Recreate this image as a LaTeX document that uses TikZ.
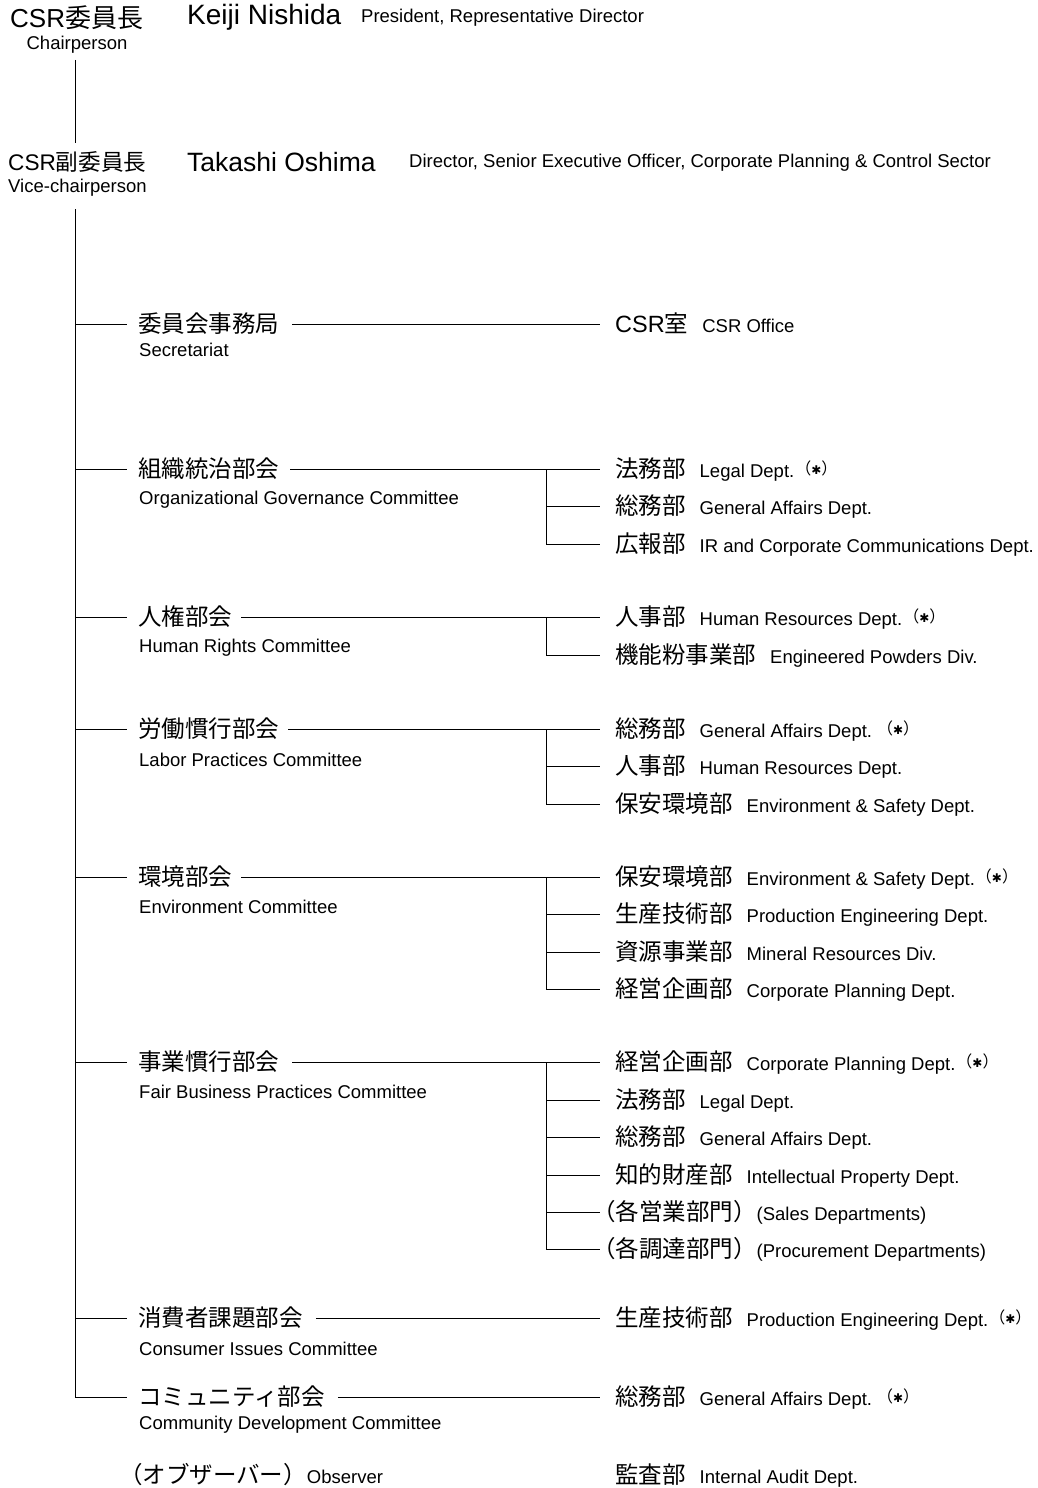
\documentclass[tikz,border=0pt]{standalone}
\usepackage{fontspec}
\setmainfont{Liberation Sans}
\newfontfamily\jpf{Noto Sans CJK JP}
\newfontfamily\symf{DejaVu Sans}
\newcommand\jpt[1]{{\jpf\fontsize{23.5}{26}\selectfont #1}}
\newcommand\dept[2]{\jpt{#1}\hspace{14pt}#2}
\newcommand\astk{\hspace{1pt}\raisebox{3pt}{{\jpf\fontsize{16}{16}\selectfont （}{\symf\fontsize{12}{12}\selectfont ✱}{\jpf\fontsize{16}{16}\selectfont ）}}}
\begin{document}
\begin{tikzpicture}[x=1pt,y=1pt,
  conn/.style={line width=1pt},
  jp/.style={font=\jpf\fontsize{23.5}{26}\selectfont, anchor=west, inner sep=0pt, text height=20pt, text depth=3.5pt},
  en/.style={font=\fontsize{18.5}{22}\selectfont, anchor=west, inner sep=0pt},
  dp/.style={font=\fontsize{18.5}{22}\selectfont, anchor=west, inner sep=0pt, text height=20pt, text depth=3.5pt},
  head/.style={anchor=west, inner sep=0pt},
]
\useasboundingbox (0,0) rectangle (1038,-1488);

% --- header ---
\node[head, font=\fontsize{26}{28}\selectfont] (chairjp) at (10,-18) {CSR{\jpf 委員長}};
\node[inner sep=0pt, font=\fontsize{18.5}{22}\selectfont] (chairen) at (77,-45) {Chairperson};
\node[head, font=\fontsize{28}{30}\selectfont] (chairname) at (187,-17) {Keiji Nishida};
\node[head, font=\fontsize{18.5}{22}\selectfont] (chairtitle) at (361,-18) {President, Representative Director};

\node[head, font=\fontsize{22.6}{26}\selectfont] (vicejp) at (8,-162) {CSR{\jpf 副委員長}};
\node[head, font=\fontsize{18.5}{22}\selectfont] (viceen) at (8,-188) {Vice-chairperson};
\node[head, font=\fontsize{26.5}{30}\selectfont] (vicename) at (187,-162) {Takashi Oshima};
\node[head, font=\fontsize{18.5}{22}\selectfont] (vicetitle) at (409,-163) {Director, Senior Executive Officer, Corporate Planning \& Control Sector};

\coordinate (v1top) at (75,-60);
\coordinate (v1bot) at (75,-143);
\draw[conn] (v1top) -- (v1bot);
\coordinate (trunktop) at (75,-209);
\coordinate (trunkbot) at (75,-1397);
\draw[conn] (trunktop) -- (trunkbot);

% --- committees ---
\node[jp] (sec) at (138,-324) {委員会事務局};
\node[en] (secen) at (139,-350) {Secretariat};
\node[jp] (og) at (138,-469) {組織統治部会};
\node[en] (ogen) at (139,-500) {Organizational Governance Committee};
\node[jp] (hr) at (138,-617) {人権部会};
\node[en] (hren) at (139,-648) {Human Rights Committee};
\node[jp] (lp) at (138,-729) {労働慣行部会};
\node[en] (lpen) at (139,-760) {Labor Practices Committee};
\node[jp] (env) at (138,-877) {環境部会};
\node[en] (envenn) at (139,-907) {Environment Committee};
\node[jp] (fbp) at (138,-1062) {事業慣行部会};
\node[en] (fbpen) at (139,-1092) {Fair Business Practices Committee};
\node[jp] (ci) at (138,-1318) {消費者課題部会};
\node[en] (cien) at (139,-1349) {Consumer Issues Committee};
\node[jp] (cd) at (138,-1397) {コミュニティ部会};
\node[en] (cden) at (139,-1425) {Community Development Committee};
\node[dp] (obs) at (119,-1475) {\jpt{（オブザーバー）}Observer};

% --- departments ---
\node[dp] (secs) at (615,-324) {{\fontsize{23.5}{26}\selectfont CSR}\jpt{室}\hspace{14pt}CSR Office};

\node[dp] (og1) at (615,-469) {\dept{法務部}{Legal Dept.\astk}};
\node[dp] (og2) at (615,-506) {\dept{総務部}{General Affairs Dept.}};
\node[dp] (og3) at (615,-544) {\dept{広報部}{IR and Corporate Communications Dept.}};

\node[dp] (hr1) at (615,-617) {\dept{人事部}{Human Resources Dept.\astk}};
\node[dp] (hr2) at (615,-655) {\dept{機能粉事業部}{Engineered Powders Div.}};

\node[dp] (lp1) at (615,-729) {\dept{総務部}{General Affairs Dept.\hspace{4pt}\astk}};
\node[dp] (lp2) at (615,-766) {\dept{人事部}{Human Resources Dept.}};
\node[dp] (lp3) at (615,-804) {\dept{保安環境部}{Environment \& Safety Dept.}};

\node[dp] (env1) at (615,-877) {\dept{保安環境部}{Environment \& Safety Dept.\astk}};
\node[dp] (env2) at (615,-914) {\dept{生産技術部}{Production Engineering Dept.}};
\node[dp] (env3) at (615,-952) {\dept{資源事業部}{Mineral Resources Div.}};
\node[dp] (env4) at (615,-989) {\dept{経営企画部}{Corporate Planning Dept.}};

\node[dp] (fbp1) at (615,-1062) {\dept{経営企画部}{Corporate Planning Dept.\astk}};
\node[dp] (fbp2) at (615,-1100) {\dept{法務部}{Legal Dept.}};
\node[dp] (fbp3) at (615,-1137) {\dept{総務部}{General Affairs Dept.}};
\node[dp] (fbp4) at (615,-1175) {\dept{知的財産部}{Intellectual Property Dept.}};
\node[dp] (fbp5) at (592,-1212) {\jpt{（各営業部門）}(Sales Departments)};
\node[dp] (fbp6) at (592,-1249) {\jpt{（各調達部門）}(Procurement Departments)};

\node[dp] (ci1) at (615,-1318) {\dept{生産技術部}{Production Engineering Dept.\astk}};
\node[dp] (cd1) at (615,-1397) {\dept{総務部}{General Affairs Dept.\hspace{4pt}\astk}};
\node[dp] (obs1) at (615,-1475) {\dept{監査部}{Internal Audit Dept.}};

% --- trunk to committees ---
\foreach \c in {sec,og,hr,lp,env,fbp,ci,cd}
  \draw[conn] (trunktop |- \c.west) -- ([xshift=-11pt]\c.west);

% --- committee to departments ---
\coordinate (rend) at (600,0);
\draw[conn] ([xshift=13pt]sec.east) -- (rend |- secs.west);
\draw[conn] ([xshift=13pt]ci.east) -- (rend |- ci1.west);
\draw[conn] ([xshift=13pt]cd.east) -- (rend |- cd1.west);

\draw[conn] ([xshift=11pt]og.east) -- (rend |- og1.west);
\coordinate (bog) at (546,-469);
\foreach \d in {og2,og3} \draw[conn] (bog) |- (rend |- \d.west);

\draw[conn] ([xshift=9pt]hr.east) -- (rend |- hr1.west);
\coordinate (bhr) at (546,-617);
\draw[conn] (bhr) |- (rend |- hr2.west);

\draw[conn] ([xshift=9pt]lp.east) -- (rend |- lp1.west);
\coordinate (blp) at (546,-729);
\foreach \d in {lp2,lp3} \draw[conn] (blp) |- (rend |- \d.west);

\draw[conn] ([xshift=9pt]env.east) -- (rend |- env1.west);
\coordinate (benv) at (546,-877);
\foreach \d in {env2,env3,env4} \draw[conn] (benv) |- (rend |- \d.west);

\draw[conn] ([xshift=13pt]fbp.east) -- (rend |- fbp1.west);
\coordinate (bfbp) at (546,-1062);
\foreach \d in {fbp2,fbp3,fbp4,fbp5,fbp6} \draw[conn] (bfbp) |- (rend |- \d.west);
\end{tikzpicture}
\end{document}
